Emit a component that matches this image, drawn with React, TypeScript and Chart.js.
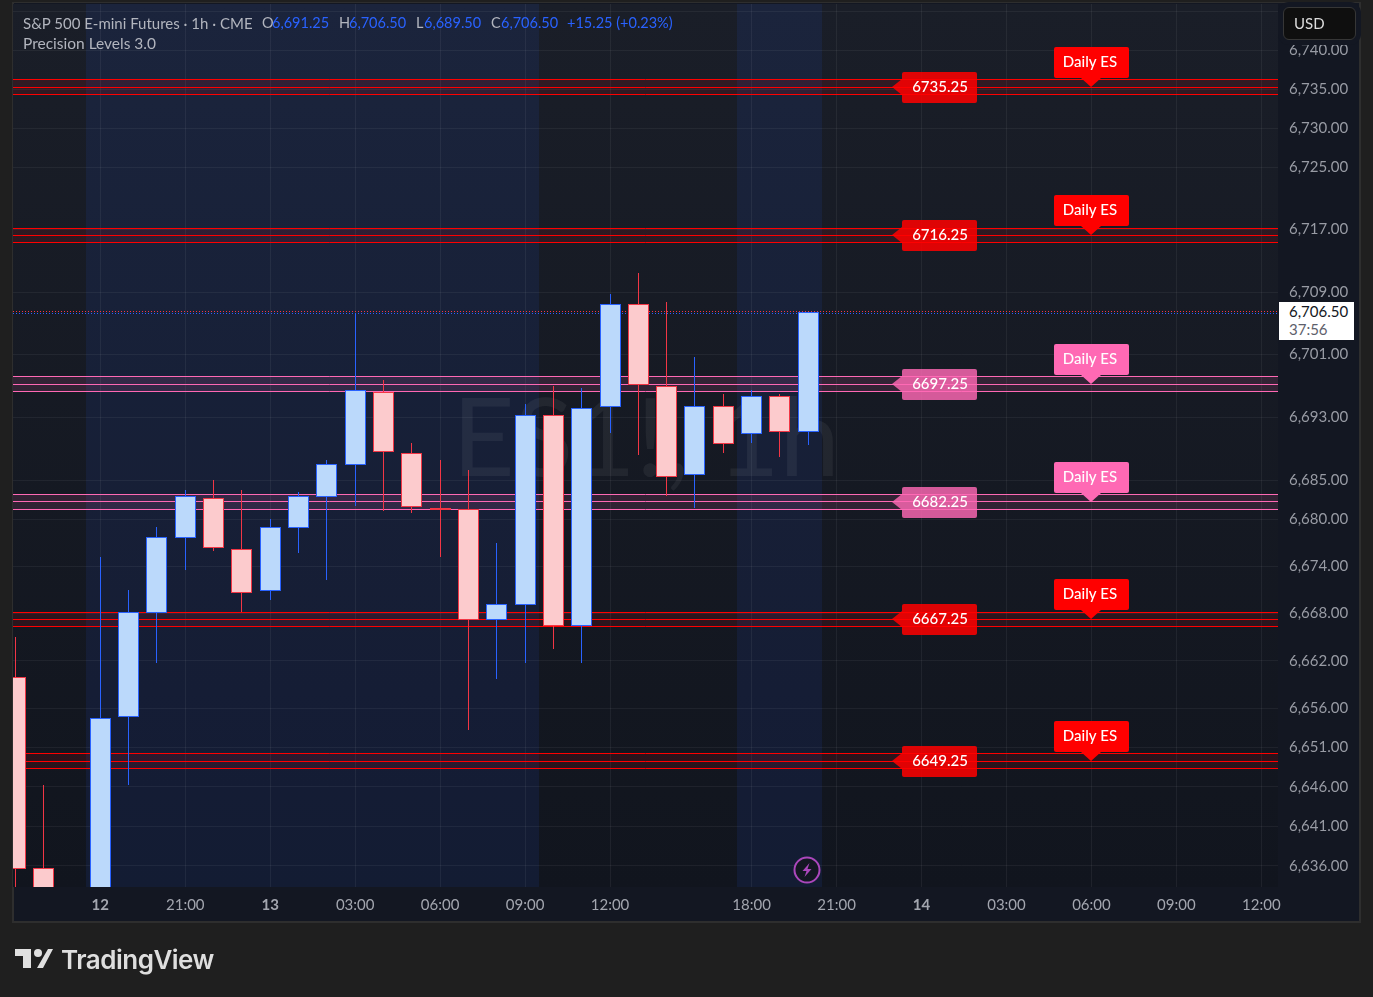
import React, { useEffect, useRef } from "react";
import { Chart, registerables } from "chart.js";

Chart.register(...registerables);

const FONT = "Lato, 'Noto Sans', sans-serif";

// candles (bar index counted in hours from the "12" tick)
const barIndex = [-3, -2, 0, 1, 2, 3, 4, 5, 6, 7, 8, 9, 10, 11, 12, 13, 14, 15, 16, 17, 18, 19, 20, 21, 22, 23, 24, 25];
const opens = [6660, 6635.75, 6630, 6655, 6668.25, 6677.75, 6682.75, 6676.25, 6671, 6679, 6683, 6687, 6696.25, 6688.5, 6681.5, 6681.25, 6667.25, 6669.25, 6693.25, 6666.5, 6694.5, 6707.5, 6697, 6685.75, 6694.5, 6691, 6695.75, 6691.25];
const highs = [6665, 6646.25, 6675.25, 6671, 6679, 6683.75, 6685, 6683.75, 6680, 6683.5, 6687.5, 6706.25, 6697.75, 6689.75, 6687.5, 6686.25, 6677, 6694.75, 6697, 6696.75, 6708.75, 6711.5, 6707.75, 6700.75, 6696, 6696.5, 6696, 6706.5];
const lows = [6631, 6628, 6628, 6646.25, 6661.75, 6673.5, 6676, 6668.25, 6669.75, 6675.75, 6672.25, 6681.75, 6681, 6680.75, 6675.25, 6653.25, 6659.75, 6661.75, 6663.5, 6661.75, 6691, 6688.25, 6683, 6681.5, 6688.5, 6689.75, 6688, 6689.5];
const closes = [6635.75, 6630, 6654.75, 6668.25, 6677.75, 6683, 6676.5, 6670.75, 6679, 6683, 6687, 6696.5, 6688.75, 6681.75, 6681.25, 6667.25, 6669.25, 6693.25, 6666.5, 6694.25, 6707.5, 6697.25, 6685.5, 6694.5, 6689.75, 6695.75, 6691.25, 6706.5];

// levels indicator
const levels = [6735.25, 6716.25, 6697.25, 6682.25, 6667.25, 6649.25];
const levelColors = ["#ff0000", "#ff0000", "#ff69b4", "#ff69b4", "#ff0000", "#ff0000"];
const levelBandHalf = 0.95;
const levelText = "Daily ES";
const levelTagBar = 28;
const levelTextBar = 35;
const lastPrices = [6706.5, 6706.25];
const lastPriceColors = ["#f23645", "#2962ff"];

// axis
const priceTicks = [6745, 6740, 6735, 6730, 6725, 6717, 6709, 6701, 6693, 6685, 6680, 6674, 6668, 6662, 6656, 6651, 6646, 6641, 6636];
const hiddenPriceLabels = [6745];
const timeTickBars = [0, 3, 6, 9, 12, 15, 18, 23, 26, 29, 32, 35, 38, 41];
const timeTickLabels = ["12", "21:00", "13", "03:00", "06:00", "09:00", "12:00", "18:00", "21:00", "14", "03:00", "06:00", "09:00", "12:00"];
const dayTickLabels = ["12", "13", "14"];

// extended-session shading, in bars
const sessionStarts = [-0.5, 22.5];
const sessionEnds = [15.5, 25.5];

const X_MIN = -3.083;
const X_MAX = 41.589;
const Y_MIN = 6633.33;
const Y_MAX = 6745.95;

function roundRect(ctx: CanvasRenderingContext2D, x: number, y: number, w: number, h: number, r: number) {
  ctx.beginPath();
  ctx.roundRect(x, y, w, h, r);
}

const backdrop = {
  id: "backdrop",
  beforeDraw(chart: any) {
    const { ctx, chartArea: a, scales } = chart;
    ctx.save();
    ctx.fillStyle = "#1f1f1f";
    ctx.fillRect(0, 0, chart.width, chart.height);
    ctx.fillStyle = "#2e2e2e";
    ctx.fillRect(12, 2, 1349, 921);
    ctx.fillStyle = "#131722";
    ctx.fillRect(14, 3, 1345, 918);
    const g = ctx.createLinearGradient(0, a.top, 0, a.bottom);
    g.addColorStop(0, "#1a1e28");
    g.addColorStop(1, "#11151e");
    ctx.fillStyle = g;
    ctx.fillRect(a.left, a.top, a.right - a.left, a.bottom - a.top);
    ctx.fillStyle = "rgba(41,98,255,0.095)";
    sessionStarts.forEach((s, i) => {
      const l = Math.round(scales.x.getPixelForValue(s));
      const r = Math.round(scales.x.getPixelForValue(sessionEnds[i]));
      ctx.fillRect(l, a.top, r - l, a.bottom - a.top);
    });
    ctx.restore();
  },
  beforeDatasetsDraw(chart: any) {
    const { ctx } = chart;
    ctx.save();
    ctx.font = `108px ${FONT}`;
    ctx.fillStyle = "rgba(255,255,255,0.06)";
    ctx.textAlign = "center";
    ctx.textBaseline = "middle";
    ctx.fillText("ES1!, 1h", 646, 441);
    ctx.restore();
  },
};

const pixelSnap = {
  id: "pixelSnap",
  afterDatasetsUpdate(chart: any) {
    chart.getSortedVisibleDatasetMetas().forEach((meta: any) => {
      if (meta.type === "line") {
        meta.data.forEach((p: any) => {
          p.y = Math.floor(p.y) + 0.5;
        });
      } else {
        const wick = meta.index === chart.data.datasets.length - 2;
        meta.data.forEach((b: any) => {
          const top = Math.round(Math.min(b.y, b.base));
          const bottom = Math.round(Math.max(b.y, b.base)) + (wick ? 0 : 1);
          b.x = Math.floor(b.x) + 0.5;
          b.y = top;
          b.base = bottom;
          b.height = bottom - top;
        });
      }
    });
  },
};

const levelTags = {
  id: "levelTags",
  afterDatasetsDraw(chart: any) {
    const { ctx, scales } = chart;
    ctx.save();
    levels.forEach((lv, i) => {
      const y = Math.round(scales.y.getPixelForValue(lv));
      const color = levelColors[i];
      // price tag pointing left
      const apex = Math.round(scales.x.getPixelForValue(levelTagBar)) - 1;
      ctx.globalAlpha = color === "#ff0000" ? 0.86 : 0.82;
      ctx.fillStyle = color;
      roundRect(ctx, apex + 10, y - 15, 75, 31, 2);
      ctx.fill();
      ctx.beginPath();
      ctx.moveTo(apex, y);
      ctx.lineTo(apex + 10, y - 8);
      ctx.lineTo(apex + 10, y + 8);
      ctx.closePath();
      ctx.fill();
      ctx.globalAlpha = 1;
      ctx.fillStyle = "#ffffff";
      ctx.font = `500 15px ${FONT}`;
      ctx.textAlign = "center";
      ctx.textBaseline = "middle";
      ctx.fillText(lv.toFixed(2), apex + 48, y);
      // text callout pointing down
      const cx = Math.round(scales.x.getPixelForValue(levelTextBar));
      ctx.fillStyle = color;
      roundRect(ctx, cx - 37, y - 40, 75, 31, 2);
      ctx.fill();
      ctx.beginPath();
      ctx.moveTo(cx - 10, y - 9);
      ctx.lineTo(cx + 10, y - 9);
      ctx.lineTo(cx, y);
      ctx.closePath();
      ctx.fill();
      ctx.fillStyle = "#ffffff";
      ctx.fillText(levelText, cx - 1, y - 25);
    });
    ctx.restore();
  },
};

export default function App() {
  const ref = useRef<HTMLCanvasElement | null>(null);

  useEffect(() => {
    if (!ref.current) return;
    const up = closes.map((c, i) => c >= opens[i]);
    const hLine = (v: number) => [
      { x: X_MIN, y: v },
      { x: X_MAX, y: v },
    ];
    const bandSets: any[] = [];
    levels.forEach((lv, i) => {
      const c = levelColors[i];
      const isRed = c === "#ff0000";
      const fillColor = isRed ? "rgba(255,0,0,0.1)" : "rgba(255,105,180,0.12)";
      [lv + levelBandHalf, lv, lv - levelBandHalf].forEach((v, k) => {
        bandSets.push({
          type: "line",
          data: hLine(v),
          borderColor: c,
          borderWidth: 1,
          pointRadius: 0,
          tension: 0,
          fill: k < 2 ? "+1" : false,
          backgroundColor: fillColor,
          order: 5,
        });
      });
    });
    const chart = new Chart(ref.current, {
      type: "bar",
      data: {
        datasets: [
          ...bandSets,
          ...lastPrices.map((v, i) => ({
            type: "line",
            data: hLine(v),
            borderColor: lastPriceColors[i],
            borderWidth: 1,
            borderDash: [1, 2],
            pointRadius: 0,
            order: 4,
          })),
          {
            type: "bar",
            data: barIndex.map((x, i) => ({ x, y: [lows[i], highs[i]] })),
            backgroundColor: up.map((u) => (u ? "#2962ff" : "#f23645")),
            borderWidth: 0,
            barThickness: 1,
            grouped: false,
            inflateAmount: 0,
            order: 2,
          },
          {
            type: "bar",
            data: barIndex.map((x, i) => ({ x, y: [opens[i], closes[i]] })),
            backgroundColor: up.map((u) => (u ? "#bbd9fb" : "#fccbcd")),
            borderColor: up.map((u) => (u ? "#2962ff" : "#f23645")),
            borderWidth: 1,
            borderSkipped: false,
            barThickness: 21,
            grouped: false,
            inflateAmount: 0,
            order: 1,
          },
        ] as any,
      },
      options: {
        animation: false,
        responsive: false,
        events: [],
        layout: { padding: { left: 13, top: 4, right: 0, bottom: 0 } },
        plugins: { legend: { display: false }, tooltip: { enabled: false } },
        scales: {
          x: {
            type: "linear",
            min: X_MIN,
            max: X_MAX,
            offset: false,
            afterBuildTicks: (s: any) => {
              s.ticks = timeTickBars.map((v) => ({ value: v }));
            },
            afterFit: (s: any) => {
              s.height = 110;
              s.paddingLeft = 0;
              s.paddingRight = 0;
            },
            grid: { color: "rgba(255,255,255,0.06)", drawTicks: false, offset: false },
            border: { display: false },
            ticks: {
              autoSkip: false,
              maxRotation: 0,
              includeBounds: false,
              padding: 9,
              color: "#a3a6af",
              font: (c: any) => {
                const lbl = timeTickLabels[c.index];
                return { family: FONT, size: 15, weight: dayTickLabels.includes(lbl) ? "bold" : "normal" };
              },
              callback: (v: any) => timeTickLabels[timeTickBars.indexOf(v)],
            },
          },
          y: {
            type: "logarithmic",
            position: "right",
            min: Y_MIN,
            max: Y_MAX,
            afterBuildTicks: (s: any) => {
              s.ticks = priceTicks.map((v) => ({ value: v }));
            },
            afterFit: (s: any) => {
              s.width = 95;
              s.paddingTop = 0;
              s.paddingBottom = 0;
            },
            grid: { color: "rgba(255,255,255,0.055)", drawTicks: false },
            border: { display: false },
            ticks: {
              autoSkip: false,
              includeBounds: false,
              padding: 11,
              color: "#989ba4",
              font: { family: FONT, size: 15 },
              callback: (v: any) =>
                hiddenPriceLabels.includes(Number(v))
                  ? ""
                  : Number(v).toLocaleString("en-US", { minimumFractionDigits: 2, maximumFractionDigits: 2 }),
            },
          },
        },
      } as any,
      plugins: [backdrop, pixelSnap, levelTags] as any,
    });
    return () => chart.destroy();
  }, []);

  const head = { position: "absolute", top: 14, whiteSpace: "nowrap", fontFamily: FONT, fontSize: 14.5, lineHeight: "18px" } as React.CSSProperties;
  const gray = "#b2b5be";
  const blue = "#2962ff";
  const items: [string, number, string][] = [
    ["O", 262, gray],
    ["6,691.25", 272, blue],
    ["H", 339, gray],
    ["6,706.50", 349, blue],
    ["L", 416, gray],
    ["6,689.50", 424, blue],
    ["C", 491, gray],
    ["6,706.50", 501, blue],
    ["+15.25 (+0.23%)", 567, blue],
  ];

  return (
    <div style={{ position: "fixed", left: 0, top: 0, width: 1373, height: 997, overflow: "hidden", background: "#1f1f1f" }}>
      <canvas ref={ref} width={1373} height={997} style={{ display: "block", width: 1373, height: 997 }} />
      <div style={{ ...head, left: 23, color: gray, fontSize: 15 }}>S&amp;P 500 E-mini Futures · 1h · CME</div>
      {items.map(([t, x, c], i) => (
        <div key={i} style={{ ...head, left: x, color: c }}>{t}</div>
      ))}
      <div style={{ ...head, left: 23, top: 34, color: gray, fontSize: 15.5 }}>Precision Levels 3.0</div>
      <div style={{ position: "absolute", left: 1283, top: 7, width: 73, height: 33, boxSizing: "border-box", background: "#0f0f0f", border: "1px solid #363636", borderRadius: 6, boxShadow: "0 0 0 5px #131722", color: "#dcdcdc", fontFamily: FONT, fontSize: 15, lineHeight: "31px", paddingLeft: 10 }}>USD</div>
      <div style={{ position: "absolute", left: 1279, top: 302, width: 75, height: 38, background: "#ffffff", fontFamily: FONT, fontSize: 15, lineHeight: "18px", color: "#131722", paddingLeft: 10, boxSizing: "border-box" }}>
        <div>6,706.50</div>
        <div style={{ color: "#5d606b" }}>37:56</div>
      </div>
      <svg style={{ position: "absolute", left: 793, top: 856 }} width={28} height={28} viewBox="0 0 28 28">
        <circle cx={14} cy={14} r={12.5} fill="#131722" stroke="#ab47bc" strokeWidth={2} />
        <path d="M16.5 7 L9.5 15 H13.5 L11.5 21 L18.5 13 H14.5 Z" fill="#ab47bc" />
      </svg>
      <svg style={{ position: "absolute", left: 14, top: 948 }} width={40} height={22} viewBox="0 0 40 22">
        <path d="M1 1 H17 V20 H9 V8 H1 Z M34 1 H39 L29 20 H23 Z" fill="#e0e0e0" />
        <circle cx={24} cy={5} r={4} fill="#e0e0e0" />
      </svg>
      <div style={{ position: "absolute", left: 61, top: 943, fontFamily: "Inter, sans-serif", fontWeight: 600, fontSize: 26, lineHeight: "34px", letterSpacing: -0.5, color: "#dedede" }}>TradingView</div>
    </div>
  );
}
